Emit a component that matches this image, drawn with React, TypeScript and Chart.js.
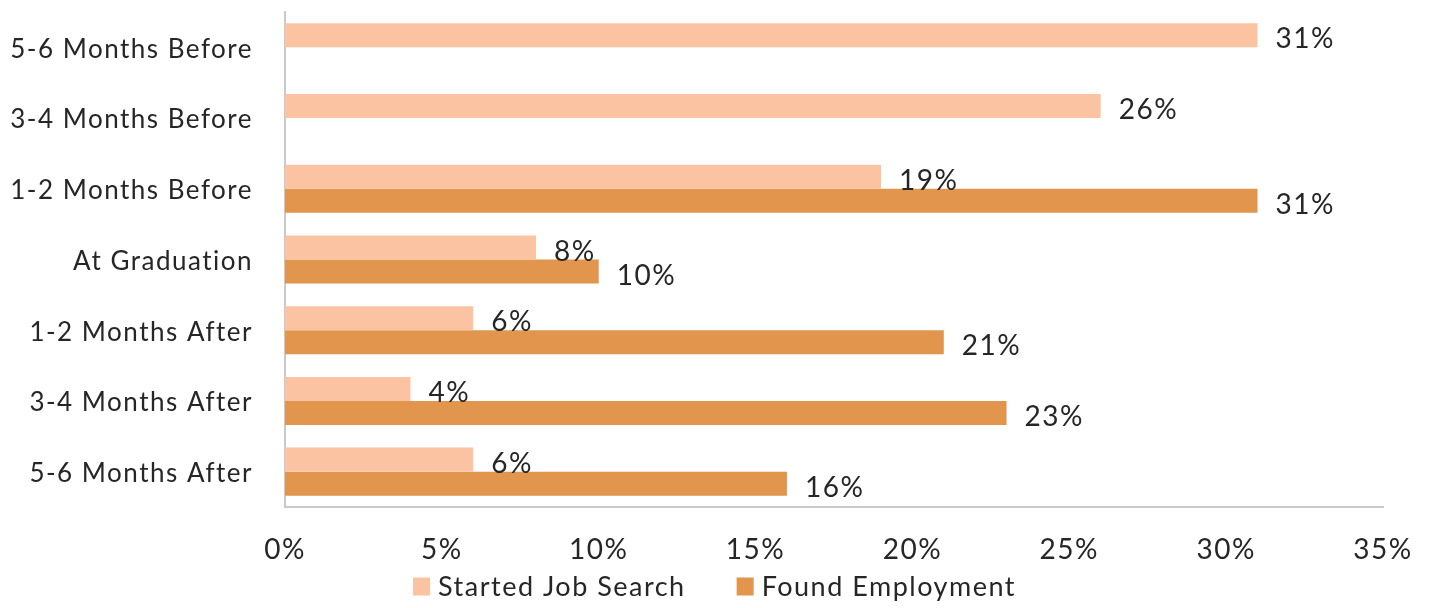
import React, { useEffect, useRef } from "react";
import { Chart, registerables } from "chart.js";

Chart.register(...registerables);

const categories = [
  "5-6 Months Before",
  "3-4 Months Before",
  "1-2 Months Before",
  "At Graduation",
  "1-2 Months After",
  "3-4 Months After",
  "5-6 Months After",
];
const startedJobSearch = [31, 26, 19, 8, 6, 4, 6];
const foundEmployment: (number | null)[] = [null, null, 31, 10, 21, 23, 16];
const seriesNames = ["Started Job Search", "Found Employment"];
const seriesColors = ["#FBC3A1", "#E2954C"];
const xMax = 35;
const xStep = 5;

const FONT = "Lato, 'Noto Sans', sans-serif";
const FS = 26;
const FS_NUM = 28;
const FS_LEG = 27;
const LS = "1.5px";
const TEXT = "#262626";

const spacingPlugin = {
  id: "letterSpacing",
  beforeUpdate(c: any) {
    c.ctx.letterSpacing = LS;
  },
  beforeDraw(c: any) {
    c.ctx.letterSpacing = LS;
  },
};

const labelPlugin = {
  id: "barLabels",
  afterDatasetsDraw(c: any) {
    const ctx = c.ctx;
    ctx.save();
    ctx.letterSpacing = LS;
    ctx.font = `${FS_NUM}px ${FONT}`;
    ctx.fillStyle = TEXT;
    ctx.textAlign = "left";
    ctx.textBaseline = "middle";
    c.data.datasets.forEach((ds: any, i: number) => {
      const meta = c.getDatasetMeta(i);
      meta.data.forEach((bar: any, j: number) => {
        const v = ds.data[j];
        if (v === null || v === undefined) return;
        ctx.fillText(`${v}%`, bar.x + 18, bar.y + 4);
      });
    });
    ctx.restore();
  },
};

const legendPlugin = {
  id: "customLegend",
  afterDraw(c: any) {
    const ctx = c.ctx;
    ctx.save();
    ctx.letterSpacing = LS;
    ctx.font = `${FS_LEG}px ${FONT}`;
    ctx.textBaseline = "middle";
    ctx.textAlign = "left";
    const box = 17;
    const gapText = 8;
    const gapItem = 51;
    const widths = seriesNames.map((n) => ctx.measureText(n).width);
    const total =
      widths.reduce((a, b) => a + b, 0) + seriesNames.length * (box + gapText) + gapItem * (seriesNames.length - 1);
    let x = c.width / 2 - total / 2;
    const cy = 587;
    seriesNames.forEach((n, i) => {
      ctx.fillStyle = seriesColors[i];
      ctx.fillRect(x, cy - box / 2 - 1, box, box + 1);
      x += box + gapText;
      ctx.fillStyle = TEXT;
      ctx.fillText(n, x, cy);
      x += widths[i] + gapItem;
    });
    ctx.restore();
  },
};

export default function App() {
  const ref = useRef<HTMLCanvasElement>(null);
  useEffect(() => {
    if (!ref.current) return;
    const chart = new Chart(ref.current, {
      type: "bar",
      data: {
        labels: categories,
        datasets: [
          {
            label: seriesNames[0],
            data: startedJobSearch,
            backgroundColor: seriesColors[0],
            categoryPercentage: 0.68,
            barPercentage: 1,
          },
          {
            label: seriesNames[1],
            data: foundEmployment,
            backgroundColor: seriesColors[1],
            categoryPercentage: 0.68,
            barPercentage: 1,
          },
        ],
      },
      options: {
        indexAxis: "y",
        animation: false,
        responsive: true,
        maintainAspectRatio: false,
        layout: { padding: { top: 12, left: 0, right: 46, bottom: 41 } },
        plugins: {
          legend: { display: false },
          tooltip: { enabled: false },
        },
        scales: {
          x: {
            min: 0,
            max: xMax,
            ticks: {
              stepSize: xStep,
              callback: (v: any) => `${v}%`,
              font: { family: FONT, size: FS_NUM },
              color: TEXT,
              padding: 26,
              maxRotation: 0,
            },
            grid: { display: false, drawTicks: false, tickLength: 0 },
            border: { display: true, color: "#c9c9c9", width: 2 },
            afterFit: (s: any) => {
              s.height = 60;
              s.paddingLeft = 0;
              s.paddingRight = 0;
            },
          },
          y: {
            ticks: {
              font: { family: FONT, size: FS },
              color: TEXT,
              padding: 32,
              labelOffset: 2,
            },
            grid: { display: false, drawTicks: false, tickLength: 0 },
            border: { display: true, color: "#c9c9c9", width: 2 },
            afterFit: (s: any) => {
              s.width = 285;
              s.paddingTop = 0;
              s.paddingBottom = 0;
            },
          },
        },
      },
      plugins: [spacingPlugin, labelPlugin, legendPlugin],
    });
    return () => chart.destroy();
  }, []);
  return (
    <div style={{ position: "absolute", left: 0, top: 0, width: 1429, height: 608, background: "#fff" }}>
      <canvas ref={ref} />
    </div>
  );
}
